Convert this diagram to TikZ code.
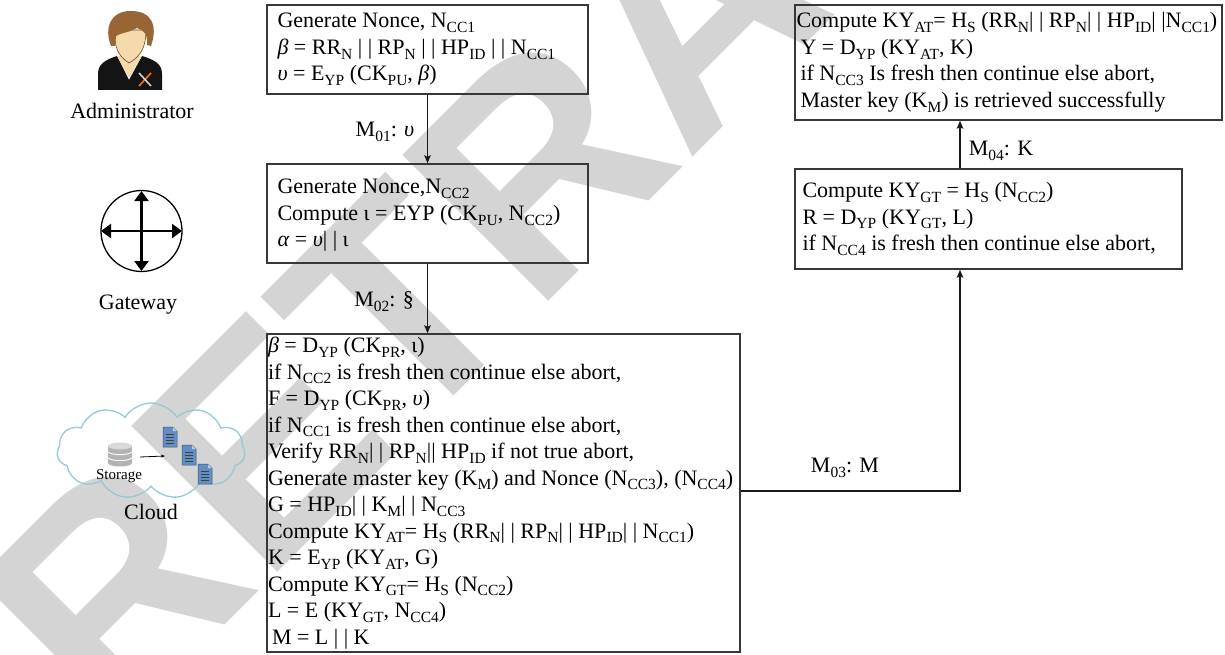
\documentclass[tikz,border=0pt]{standalone}
\usepackage{fontspec}
\setmainfont{Liberation Serif}
\newfontfamily\wmfont{Liberation Sans}
\usetikzlibrary{arrows.meta,shapes.symbols}

\definecolor{wmgray}{RGB}{212,212,212}
\definecolor{skin}{RGB}{247,218,172}
\definecolor{hair}{RGB}{152,102,52}
\definecolor{cloudline}{RGB}{150,200,214}
\definecolor{docblue}{RGB}{98,142,196}
\definecolor{frame}{RGB}{55,55,55}

% lowered subscript
\newcommand\lw[1]{\raisebox{-0.22em}{\fontsize{15.5}{15.5}\selectfont #1}}

\tikzset{
  box/.style={draw=frame, line width=1.4pt, rectangle, inner sep=0pt},
  txt/.style={align=left, inner sep=0pt, anchor=west, font=\fontsize{22}{26.5}\selectfont},
  lbl/.style={inner sep=0pt, font=\fontsize{22}{24}\selectfont},
  arr/.style={line width=1.4pt, draw=black!90, -{Stealth[length=8pt,width=6.5pt,inset=1.5pt]}},
  gwarrow/.style={line width=2.2pt, {Triangle[length=10pt,width=14pt]}-{Triangle[length=10pt,width=14pt]}},
  wmtxt/.style={inner sep=0pt, text=wmgray, font=\fontsize{300}{300}\selectfont\wmfont\bfseries}
}

\begin{document}
\begin{tikzpicture}[x=1pt,y=-1pt]
\useasboundingbox (0,0) rectangle (1225,655);

% watermark behind everything
\begin{scope}
  \clip (0,0) rectangle (1225,655);
  \node[wmtxt, rotate=45, anchor=base west] (wm) at (110,740) {RETRACTED};
\end{scope}

% ---------- actors ----------
% administrator
\fill[black!92] (98,90) -- (98,74) .. controls (98,64) and (105,60) .. (117,56) -- (129,80) -- (142,56)
  .. controls (155,60) and (162,64) .. (162,74) -- (162,90) -- cycle;
\fill[skin] (117,56) -- (129,78) -- (142,56) -- cycle;
\fill[skin, draw=hair!70!black, line width=0.6pt] (115,30) .. controls (114,47) and (118,56) .. (129,63)
  .. controls (141,56) and (146,47) .. (146,30) -- cycle;
\fill[hair] (111,46) .. controls (104,28) and (110,11) .. (131,11) .. controls (152,11) and (158,26) .. (151,46)
  -- (147,45) .. controls (148,35) and (144,30) .. (137,28) .. controls (128,33) and (120,33) .. (116,36) -- (115,46) -- cycle;
\draw[orange!90!red, line width=1.6pt] (139,86) -- (151,73);
\draw[gray!35, line width=1.6pt] (139,73) -- (151,86);
\node[lbl] (adm) at (132,111) {Administrator};

% gateway
\draw[line width=1.3pt] (141.5,231) circle (40.5);
\draw[gwarrow] (141.5,191) -- (141.5,271);
\draw[gwarrow] (101,231) -- (182,231);
\node[lbl] (gw) at (138,305) {Gateway};

% cloud with storage
\node[cloud, cloud puffs=11, cloud puff arc=115, aspect=1.9, draw=cloudline, line width=1.3pt,
      minimum width=188pt, minimum height=96pt, inner sep=0pt] (cl) at (151,451) {};
\fill[gray!60] (108,446) rectangle (132,463);
\fill[gray!60] (120,463) ellipse (12 and 3.5);
\fill[gray!30] (120,446) ellipse (12 and 3.5);
\draw[white, line width=0.9pt] (108,452) .. controls (112,455.5) and (128,455.5) .. (132,452);
\draw[white, line width=0.9pt] (108,458) .. controls (112,461.5) and (128,461.5) .. (132,458);
\node[inner sep=0pt, font=\fontsize{15}{15}\selectfont] (stor) at (119,476) {Storage};
\coordinate (sa) at (140,457);
\coordinate (sb) at (165,456);
\draw[line width=0.8pt, -{Stealth[length=4pt,width=3pt]}] (sa) -- (sb);
\foreach \x/\y in {163/427, 182/445, 198/464} {
  \fill[docblue, draw=docblue!60!black, line width=0.5pt] (\x,\y) -- (\x+10,\y) -- (\x+14,\y+4) -- (\x+14,\y+20) -- (\x,\y+20) -- cycle;
  \fill[docblue!45!white] (\x+10,\y) -- (\x+10,\y+4) -- (\x+14,\y+4) -- cycle;
  \foreach \k in {7,10,13,16}
    \draw[black!75, line width=0.8pt] (\x+2.5,\y+\k) -- (\x+11,\y+\k);
}
\node[lbl] (cld) at (151,512) {Cloud};

% ---------- message boxes ----------
\node[box, minimum width=321pt, minimum height=89pt] (b1) at (427.5,49.5) {};
\node[box, minimum width=321pt, minimum height=99pt] (b2) at (427.5,213.5) {};
\node[box, minimum width=473pt, minimum height=318pt] (b3) at (503.5,493) {};
\node[box, minimum width=427pt, minimum height=115pt] (b4) at (1008.5,62.5) {};
\node[box, minimum width=387pt, minimum height=100pt] (b5) at (988.5,219) {};

\node[txt] (t1) at ([xshift=11pt]b1.west) {%
Generate Nonce, N\lw{CC1}\\
\textit{β} = RR\lw{N} | | RP\lw{N} | | HP\lw{ID} | | N\lw{CC1}\\
\textit{υ} = E\lw{YP} (CK\lw{PU}, \textit{β})};

\node[txt] (t2) at ([xshift=11pt,yshift=-2pt]b2.west) {%
Generate Nonce,N\lw{CC2}\\
Compute ι = EYP (CK\lw{PU}, N\lw{CC2})\\
\textit{α} = \textit{υ}| | ι};

\node[txt] (t3) at ([xshift=1.5pt]b3.west) {%
\textit{β} = D\lw{YP} (CK\lw{PR}, ι)\\
if N\lw{CC2} is fresh then continue else abort,\\
F = D\lw{YP} (CK\lw{PR}, \textit{υ})\\
if N\lw{CC1} is fresh then continue else abort,\\
Verify RR\lw{N}| | RP\lw{N}|| HP\lw{ID} if not true abort,\\
Generate master key (K\lw{M}) and Nonce (N\lw{CC3}), (N\lw{CC4})\\
G = HP\lw{ID}| | K\lw{M}| | N\lw{CC3}\\
Compute KY\lw{AT}= H\lw{S} (RR\lw{N}| | RP\lw{N}| | HP\lw{ID}| | N\lw{CC1})\\
K = E\lw{YP} (KY\lw{AT}, G)\\
Compute KY\lw{GT}= H\lw{S} (N\lw{CC2})\\
L = E (KY\lw{GT}, N\lw{CC4})\\
\hspace*{4pt}M = L | | K};

\node[txt] (t4) at ([xshift=2pt]b4.west) {%
Compute KY\lw{AT}= H\lw{S} (RR\lw{N}| | RP\lw{N}| | HP\lw{ID}| |N\lw{CC1})\\
\hspace*{4pt}Y = D\lw{YP} (KY\lw{AT}, K)\\
\hspace*{4pt}if N\lw{CC3} Is fresh then continue else abort,\\
\hspace*{4pt}Master key (K\lw{M}) is retrieved successfully};

\node[txt] (t5) at ([xshift=8pt]b5.west) {%
Compute KY\lw{GT} = H\lw{S} (N\lw{CC2})\\
R = D\lw{YP} (KY\lw{GT}, L)\\
if N\lw{CC4} is fresh then continue else abort,};

% ---------- messages ----------
\draw[arr] (b1.south) -- (b2.north);
\draw[arr] (b2.south) -- (b2.south |- b3.north);
\coordinate (m3) at (960,491);
\draw[arr] (b3.east |- m3) -- (m3) -- (m3 |- b5.south);
\draw[arr] (m3 |- b5.north) -- (m3 |- b4.south);

\node[lbl] (l1) at (385,132) {M\lw{01}: \textit{υ}};
\node[lbl] (l2) at (384,302) {M\lw{02}: §};
\node[lbl] (l3) at (845,468) {M\lw{03}: M};
\node[lbl] (l4) at (1001,151) {M\lw{04}: K};
\end{tikzpicture}
\end{document}
